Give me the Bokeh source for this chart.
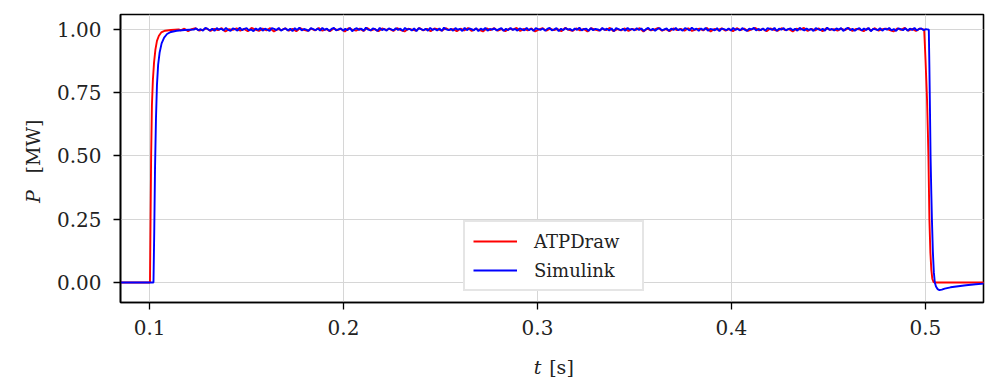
import numpy as np
from bokeh.plotting import figure
from bokeh.models import Range1d, FixedTicker, NumeralTickFormatter, Label, Legend, LegendItem
from bokeh.embed import file_html
from bokeh.resources import INLINE

# ---------------- data ----------------
# ATPDraw (red): rise, noisy plateau, fall
red_rise_t = [0.085, 0.1002, 0.1005, 0.1008, 0.1012, 0.1017, 0.1023, 0.1030, 0.1038, 0.1048, 0.1060, 0.1080, 0.1110, 0.1150]
red_rise_p = [0.0, 0.0, 0.25, 0.50, 0.70, 0.80, 0.87, 0.92, 0.955, 0.975, 0.988, 0.995, 0.998, 1.0]
red_plateau_p = [
    0.996, 1.003, 0.993, 1.001, 1.005, 0.995, 0.999, 1.004, 0.994, 1.002,
    0.997, 1.005, 0.992, 1.001, 0.998, 1.004, 0.995, 1.002, 0.993, 1.006,
    0.999, 0.994, 1.003, 0.996, 1.005, 0.992, 1.001, 0.997, 1.004, 0.995,
    1.002, 0.993, 1.005, 0.998, 0.994, 1.003, 0.996, 1.006, 0.995, 1.001,
    0.993, 1.004, 0.997, 1.002, 0.992, 1.005, 0.999, 0.995, 1.003, 0.994,
    1.006, 0.996, 1.001, 0.993, 1.004, 0.998, 1.002, 0.994, 1.005, 0.997,
    0.992, 1.003, 0.999, 0.995, 1.006, 0.996, 1.002, 0.993, 1.004, 1.000,
    0.995, 1.005, 0.997, 1.001, 0.993, 1.003, 0.996, 1.006, 0.994, 1.002,
    0.998, 0.992, 1.004, 0.997, 1.005, 0.995, 1.001, 0.993, 1.003, 0.999,
    1.006, 0.994, 1.002, 0.996, 1.004, 0.992, 1.000, 1.005, 0.995, 1.003,
    0.997, 1.001, 0.993, 1.006, 0.998, 0.994, 1.004, 0.996, 1.002, 0.992,
    1.005, 0.999, 0.995, 1.003, 0.997, 1.006, 0.993, 1.001, 0.996, 1.004,
    0.994, 1.002, 0.998, 1.005, 0.992, 1.003, 0.996, 1.000, 1.006, 0.995,
    1.001, 0.993, 1.004, 0.997, 1.002, 0.995, 1.005, 0.994, 0.999, 1.003,
    0.996, 1.006, 0.992, 1.002, 0.998, 1.004, 0.995, 1.001, 0.993, 1.005,
    0.997, 1.003, 0.994, 1.000, 1.006, 0.996, 1.002, 0.993, 1.004, 0.998,
    0.995, 1.005, 0.997, 1.001, 0.992, 1.003, 0.999, 1.006, 0.994, 1.002,
    0.996, 1.004, 0.993, 1.005, 0.998, 1.001, 0.995, 1.003, 0.997, 1.006,
    0.994, 1.002, 0.999, 0.993, 1.004, 0.996, 1.005, 0.995, 1.001, 1.003,
    0.997, 0.992, 1.004, 0.998, 1.006, 0.995, 1.002, 0.994, 1.003, 1.000,
]
red_plateau_start, red_plateau_end = 0.1160, 0.4990
red_fall_t = [0.4994, 0.4997, 0.5001, 0.5005, 0.5009, 0.5013, 0.5016, 0.5021, 0.5026, 0.5031, 0.5036, 0.5042, 0.5050, 0.5310]
red_fall_p = [1.0, 0.95, 0.88, 0.80, 0.72, 0.60, 0.50, 0.25, 0.12, 0.05, 0.015, 0.002, 0.0, 0.0]

# Simulink (blue)
blue_rise_t = [0.085, 0.1020, 0.1024, 0.1028, 0.1033, 0.1038, 0.1044, 0.1052, 0.1062, 0.1075, 0.1090, 0.1110, 0.1140, 0.1180, 0.1230]
blue_rise_p = [0.0, 0.0, 0.20, 0.45, 0.65, 0.78, 0.86, 0.91, 0.945, 0.968, 0.982, 0.990, 0.995, 0.998, 1.0]
blue_plateau_p = [
    1.004, 0.997, 1.001, 0.995, 1.006, 1.002, 0.996, 1.003, 0.994, 1.005,
    0.999, 1.003, 0.996, 1.006, 0.998, 0.994, 1.004, 1.001, 0.995, 1.007,
    0.997, 1.002, 1.005, 0.996, 1.000, 0.993, 1.004, 0.998, 1.006, 0.995,
    1.003, 0.999, 0.994, 1.005, 1.002, 0.997, 1.006, 0.995, 1.001, 1.004,
    0.996, 1.003, 0.993, 1.005, 0.998, 1.007, 0.996, 1.002, 0.999, 0.994,
    1.005, 1.001, 0.997, 1.004, 0.995, 1.006, 0.998, 1.003, 0.994, 1.002,
    1.006, 0.996, 1.000, 1.004, 0.995, 1.003, 0.997, 1.006, 0.993, 1.001,
    1.005, 0.998, 1.003, 0.995, 1.007, 0.999, 0.996, 1.004, 1.001, 0.994,
    1.006, 0.997, 1.002, 0.995, 1.004, 1.000, 0.996, 1.005, 0.998, 1.003,
    0.994, 1.006, 0.999, 1.002, 0.996, 1.004, 0.993, 1.005, 1.001, 0.997,
    1.003, 0.995, 1.006, 0.998, 1.002, 0.996, 1.004, 0.994, 1.007, 1.000,
    0.997, 1.003, 0.995, 1.005, 0.999, 1.002, 0.994, 1.006, 0.997, 1.004,
    1.001, 0.996, 1.005, 0.993, 1.003, 0.998, 1.006, 0.995, 1.002, 0.999,
    1.004, 0.996, 1.001, 1.005, 0.994, 1.003, 0.997, 1.006, 0.998, 1.002,
    0.995, 1.004, 1.000, 0.996, 1.006, 0.997, 1.003, 0.994, 1.005, 1.001,
    0.998, 1.004, 0.995, 1.002, 1.006, 0.996, 1.000, 1.005, 0.993, 1.003,
    0.997, 1.006, 0.999, 1.002, 0.995, 1.004, 0.998, 1.007, 0.996, 1.001,
    1.003, 0.994, 1.005, 0.997, 1.002, 1.000, 0.995, 1.006, 0.998, 1.003,
    0.996, 1.004, 0.993, 1.005, 1.001, 0.997, 1.003, 0.995, 1.006, 0.999,
    1.002, 0.996, 1.005, 0.998, 1.004, 0.994, 1.001, 1.006, 0.997, 1.003,
    0.995, 1.002, 1.005, 0.996, 1.000, 1.004, 0.994, 1.003, 0.998, 1.006,
    0.997, 1.001, 0.995, 1.005, 1.002, 0.996, 1.007, 0.999, 1.003, 0.994,
    1.004, 0.998, 1.006, 0.995, 1.002, 1.000, 0.996, 1.005, 0.993, 1.003,
    1.001, 0.997, 1.004, 0.995, 1.006, 0.998, 1.002, 0.996, 1.005, 0.999,
    0.994, 1.003, 1.000, 1.006, 0.996, 1.002, 0.997, 1.004, 0.995, 1.005,
    1.002, 0.998, 1.006, 0.994, 1.003, 0.999, 1.005, 0.996, 1.001, 1.004,
    0.997, 1.003, 0.995, 1.006, 1.000, 0.996, 1.004, 0.998, 1.002, 0.994,
    1.005, 1.001, 0.997, 1.003, 0.995, 1.007, 0.998, 1.002, 0.996, 1.004,
    0.999, 1.005, 0.994, 1.002, 1.006, 0.997, 1.003, 0.995, 1.001, 1.005,
    0.996, 1.004, 0.998, 1.006, 0.993, 1.002, 1.000, 0.997, 1.005, 0.995,
    1.003, 0.999, 1.006, 0.996, 1.002, 0.994, 1.004, 1.001, 0.997, 1.005,
    0.995, 1.003, 0.998, 1.006, 0.996, 1.002, 1.004, 0.997, 1.001, 0.999,
]
blue_plateau_start, blue_plateau_end = 0.1240, 0.5015
blue_fall_t = [0.5018, 0.5021, 0.5024, 0.5027, 0.5031, 0.5034, 0.5039, 0.5044, 0.5049, 0.5055, 0.5063, 0.5073, 0.5085, 0.5100, 0.5130, 0.5170, 0.5210, 0.5260, 0.5310]
blue_fall_p = [1.0, 0.85, 0.68, 0.50, 0.35, 0.25, 0.12, 0.04, 0.0, -0.016, -0.026, -0.030, -0.028, -0.024, -0.019, -0.015, -0.011, -0.007, -0.004]

x_ticks = [0.1, 0.2, 0.3, 0.4, 0.5]
y_ticks = [0.0, 0.25, 0.5, 0.75, 1.0]

red_t = red_rise_t + list(np.linspace(red_plateau_start, red_plateau_end, len(red_plateau_p))) + red_fall_t
red_p = red_rise_p + red_plateau_p + red_fall_p
blue_t = blue_rise_t + list(np.linspace(blue_plateau_start, blue_plateau_end, len(blue_plateau_p))) + blue_fall_t
blue_p = blue_rise_p + blue_plateau_p + blue_fall_p

# ---------------- figure ----------------
FONT = "DejaVu Serif"
X0, X1 = 0.085, 0.530
Y0, Y1 = -0.079, 1.059
p = figure(width=985, height=383, output_backend="svg", toolbar_location=None,
           x_range=Range1d(X0, X1), y_range=Range1d(Y0, Y1),
           min_border_left=120, min_border_right=2, min_border_top=14, min_border_bottom=81)
p.background_fill_color = "white"
p.border_fill_color = "white"
p.outline_line_color = "black"
p.outline_line_width = 1.6

r_red = p.line(red_t, red_p, line_color="#ff0000", line_width=1.9)
r_blue = p.line(blue_t, blue_p, line_color="#0000ff", line_width=1.9)

for ax in (p.xaxis[0], p.yaxis[0]):
    ax.axis_line_color = "black"
    ax.axis_line_width = 1.6
    ax.major_tick_line_color = "black"
    ax.major_tick_line_width = 1.3
    ax.major_tick_out = 7
    ax.major_tick_in = 0
    ax.minor_tick_line_color = None
    ax.major_label_text_font = FONT
    ax.major_label_text_font_size = "20px"
    ax.major_label_text_color = "#222222"

p.xaxis.ticker = FixedTicker(ticks=x_ticks)
p.yaxis.ticker = FixedTicker(ticks=y_ticks)
p.xaxis.formatter = NumeralTickFormatter(format="0.0")
p.yaxis.formatter = NumeralTickFormatter(format="0.00")
p.xaxis.major_label_standoff = 10
p.yaxis.major_label_standoff = 12

p.xgrid.grid_line_color = "#d6d6d6"
p.ygrid.grid_line_color = "#d6d6d6"
p.xgrid.grid_line_width = 1
p.ygrid.grid_line_width = 1

# axis titles (italic symbol + upright unit); data-unit positions, held in side panels
px_x = (X1 - X0) / 863.0   # data per pixel, x
px_y = (Y1 - Y0) / 288.0   # data per pixel, y
def cx(c):
    return X0 + (c - 120) * px_x
def cy(c):
    return Y1 - (c - 14) * px_y

lab_kw = dict(text_font=FONT, text_font_size="19px", text_color="#222222",
              text_align="center", text_baseline="middle")
p.add_layout(Label(x=cx(537), y=cy(366), text="t", text_font_style="italic", **lab_kw), "left")
p.add_layout(Label(x=cx(561), y=cy(366), text="[s]", **lab_kw), "below")
p.add_layout(Label(x=cx(32), y=cy(196), text="P", text_font_style="italic", angle=np.pi / 2, **lab_kw), "left")
p.add_layout(Label(x=cx(32), y=cy(146), text="[MW]", angle=np.pi / 2, **lab_kw), "left")

legend = Legend(items=[LegendItem(label="ATPDraw", renderers=[r_red]),
                       LegendItem(label="Simulink", renderers=[r_blue])],
                location=(343, 11))
legend.label_text_font = FONT
legend.label_text_font_size = "18px"
legend.label_text_color = "#222222"
legend.border_line_color = "#cccccc"
legend.border_line_width = 2
legend.background_fill_color = "white"
legend.background_fill_alpha = 1.0
legend.glyph_width = 44
legend.glyph_height = 22
legend.label_height = 22
legend.label_width = 100
legend.label_standoff = 17
legend.padding = 8
legend.spacing = 7
legend.margin = 0
p.add_layout(legend)

open("out.html", "w").write(file_html(p, INLINE))
